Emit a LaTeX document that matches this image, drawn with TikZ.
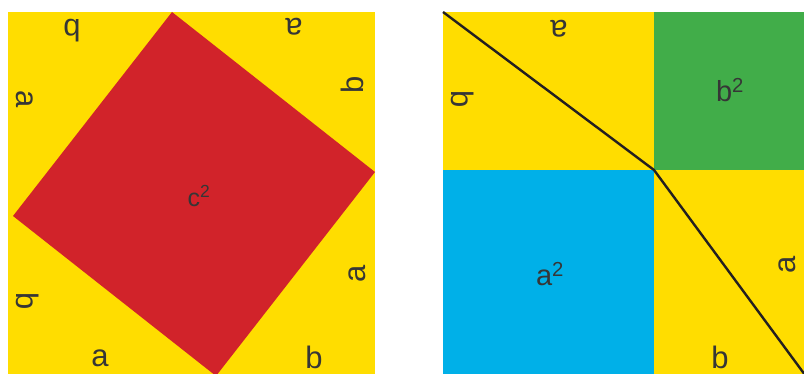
\documentclass[tikz,border=0pt]{standalone}
\usepackage{fontspec}
\setmainfont{Liberation Sans}
\definecolor{yel}{HTML}{FFDD00}
\definecolor{redsq}{HTML}{D1232A}
\definecolor{grn}{HTML}{41AD49}
\definecolor{blu}{HTML}{00B0E8}
\definecolor{txt}{HTML}{363636}
\definecolor{ln}{HTML}{231F20}
\begin{document}
\begin{tikzpicture}[x=1pt,y=-1pt,
  lbl/.style={inner sep=0pt, outer sep=0pt, text=txt, font=\fontsize{31}{31}\selectfont},
  sq/.style={inner sep=0pt, outer sep=0pt, text=txt, font=\fontsize{29}{29}\selectfont},
  csq/.style={inner sep=0pt, outer sep=0pt, text=txt, font=\fontsize{25}{25}\selectfont},
  divline/.style={draw=ln, line width=2.4pt, line join=round}]
\useasboundingbox (0,0) rectangle (804,374);
\begin{scope}
\clip (0,0) rectangle (804,374);
% left square
\fill[yel] (8,12) rectangle (375,380);
\coordinate (rt) at (172,12);
\coordinate (rr) at (375,172);
\coordinate (rb) at (216,376);
\coordinate (rl) at (13,216);
\fill[redsq] (rt) -- (rr) -- (rb) -- (rl) -- cycle;
% right square
\fill[yel] (443,12) rectangle (810,380);
\fill[grn] (654,12) rectangle (810,170);
\fill[blu] (443,170) rectangle (654,380);
\coordinate (d1) at (443,12);
\coordinate (d2) at (654,170);
\coordinate (d3) at (808,379);
\draw[divline] (d1) -- (d2) -- (d3);
\end{scope}
% labels left
\node[lbl, rotate=180] (l1) at (72,31) {b};
\node[lbl, rotate=180] (l2) at (294,27) {a};
\node[lbl, rotate=-90] (l3) at (25,99) {a};
\node[lbl, rotate=90] (l4) at (352,85) {b};
\node[lbl, rotate=-90] (l5) at (28,301) {b};
\node[lbl, rotate=90] (l6) at (357,274) {a};
\node[lbl] (l7) at (100,358) {a};
\node[lbl] (l8) at (314,357) {b};
\node[csq] (c2) at (199,196) {c\textsuperscript{2}};
% labels right
\node[lbl, rotate=180] (r1) at (559,29) {a};
\node[lbl, rotate=-90] (r2) at (463,99) {b};
\node[sq] (b2) at (730,90) {b\textsuperscript{2}};
\node[sq] (a2) at (550,274) {a\textsuperscript{2}};
\node[lbl, rotate=90] (r3) at (787,265) {a};
\node[lbl] (r4) at (720,357) {b};
\end{tikzpicture}
\end{document}
